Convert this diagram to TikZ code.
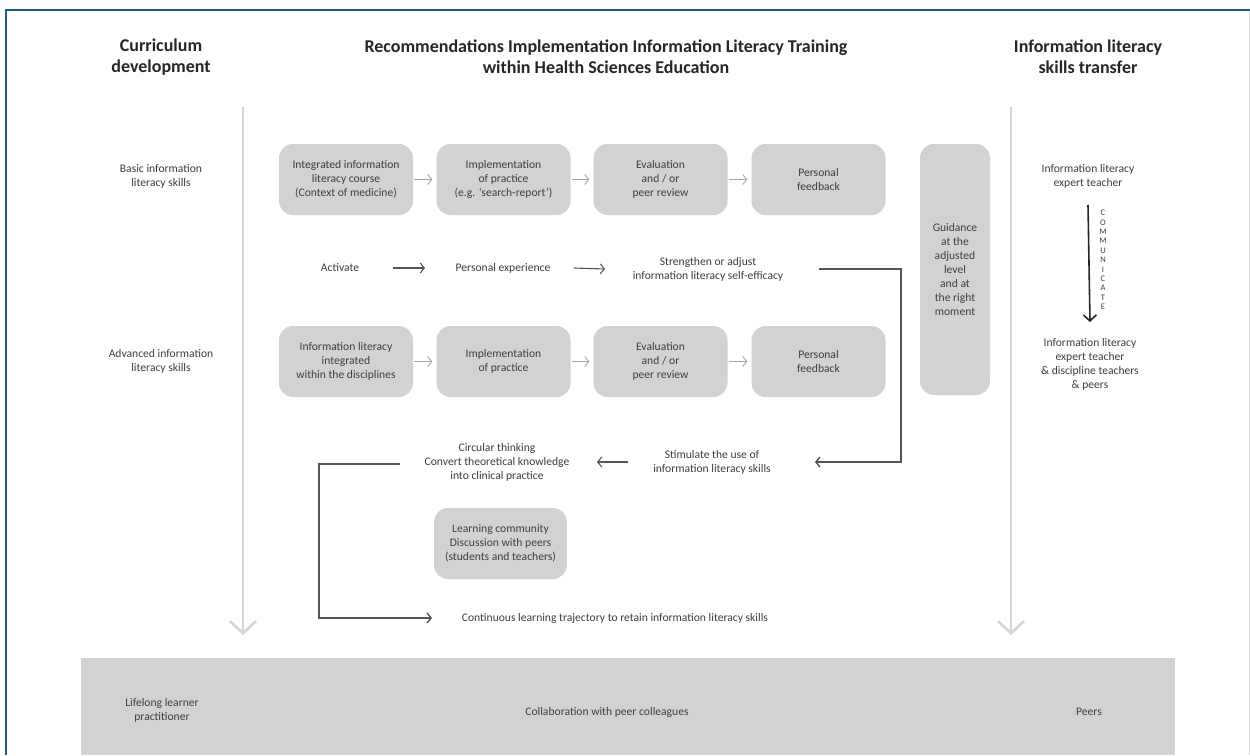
\documentclass[tikz,border=0pt]{standalone}
\usepackage{fontspec}
\setmainfont{Carlito}
\usetikzlibrary{arrows.meta}
\definecolor{boxgray}{HTML}{D1D2D4}
\definecolor{frameblue}{HTML}{1B5E8C}
\definecolor{txt}{HTML}{3E3E3E}
\definecolor{head}{HTML}{262626}
\definecolor{lightarr}{HTML}{A6A6A6}
\definecolor{darkarr}{HTML}{555555}
\definecolor{vline}{HTML}{D3D4D6}
\newcommand\bodyfs{\fontsize{11.6}{14}\selectfont}
\newcommand\headfs{\fontsize{18}{21}\selectfont\bfseries}
\tikzset{
  stepbox/.style={fill=boxgray, rounded corners=14pt, minimum width=134pt, minimum height=71pt,
    inner sep=0pt, text=txt, align=center, font=\bodyfs},
  lbl/.style={text=txt, align=center, font=\bodyfs, inner sep=0pt},
  headlbl/.style={text=head, align=center, font=\headfs, inner sep=0pt},
  garrow/.style={draw=lightarr, line width=0.9pt, -{Straight Barb[length=4pt,width=10pt]}},
  darrow/.style={draw=darkarr, line width=1.1pt, -{Straight Barb[length=4pt,width=10pt]}},
  looppath/.style={draw=darkarr, line width=1.4pt},
  bigarrow/.style={draw=vline, line width=2.6pt, -{Straight Barb[length=12pt,width=26pt]}},
}
\begin{document}
\begin{tikzpicture}[x=1pt,y=-1pt]
\useasboundingbox (0,0) rectangle (1250,755);
\fill[white] (0,0) rectangle (1250,755);
% frame
\draw[vline, line width=1pt] (1249,10) -- (1249,755);
\draw[frameblue, line width=2.5pt] (6,755) -- (6,10) -- (1250,10);
% bottom band
\fill[boxgray] (81,658) rectangle (1175,755);

% headings
\node[headlbl] (h1) at (161,57) {Curriculum\\development};
\node[headlbl] (h2) at (606,57) {Recommendations Implementation Information Literacy Training\\within Health Sciences Education};
\node[headlbl] (h3) at (1088,57) {Information literacy\\skills transfer};

% vertical big arrows
\coordinate (lt) at (243,107);
\coordinate (lb) at (243,635);
\coordinate (rt) at (1011,107);
\coordinate (rb) at (1011,635);
\draw[bigarrow] (lt) -- (lb);
\draw[bigarrow] (rt) -- (rb);

% left labels
\node[lbl] (basic) at (161,176) {Basic information\\literacy skills};
\node[lbl] (adv) at (161,361) {Advanced information\\literacy skills};

% row 1
\node[stepbox] (a1) at (346,179.5) {Integrated information\\literacy course\\(Context of medicine)};
\node[stepbox] (a2) at (503.5,179.5) {Implementation\\of practice\\(e.g. `search-report')};
\node[stepbox] (a3) at (660.5,179.5) {Evaluation\\and / or\\peer review};
\node[stepbox] (a4) at (818.5,179.5) {Personal\\feedback};
\draw[garrow, shorten <=1pt, shorten >=4pt] (a1) -- (a2);
\draw[garrow, shorten <=1pt, shorten >=4pt] (a2) -- (a3);
\draw[garrow, shorten <=1pt, shorten >=4pt] (a3) -- (a4);

% guidance
\node[stepbox, minimum width=70pt, minimum height=251pt] (guid) at (955,269.5) {Guidance\\at the\\adjusted\\level\\and at\\the right\\moment};

% activate row
\node[lbl] (act) at (340,268) {Activate};
\node[lbl] (pe) at (503,268) {Personal experience};
\node[lbl] (se) at (708,269) {Strengthen or adjust\\information literacy self-efficacy};
\draw[darrow] ([xshift=53pt]act.center) -- ([xshift=-78pt]pe.center);
\draw[darrow] ([xshift=71pt]pe.center) -- ([xshift=-103pt]se.center);

% row 2
\node[stepbox] (b1) at (346,361.5) {Information literacy\\integrated\\within the disciplines};
\node[stepbox] (b2) at (503.5,361.5) {Implementation\\of practice};
\node[stepbox] (b3) at (660.5,361.5) {Evaluation\\and / or\\peer review};
\node[stepbox] (b4) at (818.5,361.5) {Personal\\feedback};
\draw[garrow, shorten <=1pt, shorten >=4pt] (b1) -- (b2);
\draw[garrow, shorten <=1pt, shorten >=4pt] (b2) -- (b3);
\draw[garrow, shorten <=1pt, shorten >=4pt] (b3) -- (b4);

% stimulate / circular row
\node[lbl] (stim) at (712,462) {Stimulate the use of\\information literacy skills};
\node[lbl] (circ) at (497,462) {Circular thinking\\Convert theoretical knowledge\\into clinical practice};
\coordinate (rc) at (901,269);
\draw[looppath, -{Straight Barb[length=4pt,width=10pt]}] ([xshift=111pt]se.center) -- (rc) |- ([xshift=103pt]stim.center);
\draw[darrow] ([xshift=-84pt]stim.center) -- ([xshift=100pt]circ.center);

% learning community
\node[stepbox, minimum width=133pt] (lc) at (500.5,543.5) {Learning community\\Discussion with peers\\(students and teachers)};

% continuous
\node[lbl] (cont) at (615,618) {Continuous learning trajectory to retain information literacy skills};
\coordinate (lcor) at (319,464);
\draw[looppath, -{Straight Barb[length=4pt,width=10pt]}] ([xshift=-97pt,yshift=-2pt]circ.center) -- (lcor) |- ([xshift=-183pt]cont.center);

% right column
\node[lbl] (it1) at (1088,176) {Information literacy\\expert teacher};
\node[lbl] (it2) at (1090,364) {Information literacy\\expert teacher\\\& discipline teachers\\\& peers};
\draw[draw=black!85, line width=1.6pt, -{Straight Barb[length=6pt,width=13pt]}] ([yshift=-29pt]it1.center) -- ([yshift=42pt]it2.center);
\node[text=txt, align=center, inner sep=0pt, font=\fontsize{8.5}{9.4}\selectfont] (comm) at (1103,260) {C\\O\\M\\M\\U\\N\\I\\C\\A\\T\\E};

% bottom labels
\node[lbl] (lll) at (162,710) {Lifelong learner\\practitioner};
\node[lbl] (collab) at (607,712) {Collaboration with peer colleagues};
\node[lbl] (peers) at (1089,712) {Peers};
\end{tikzpicture}
\end{document}
